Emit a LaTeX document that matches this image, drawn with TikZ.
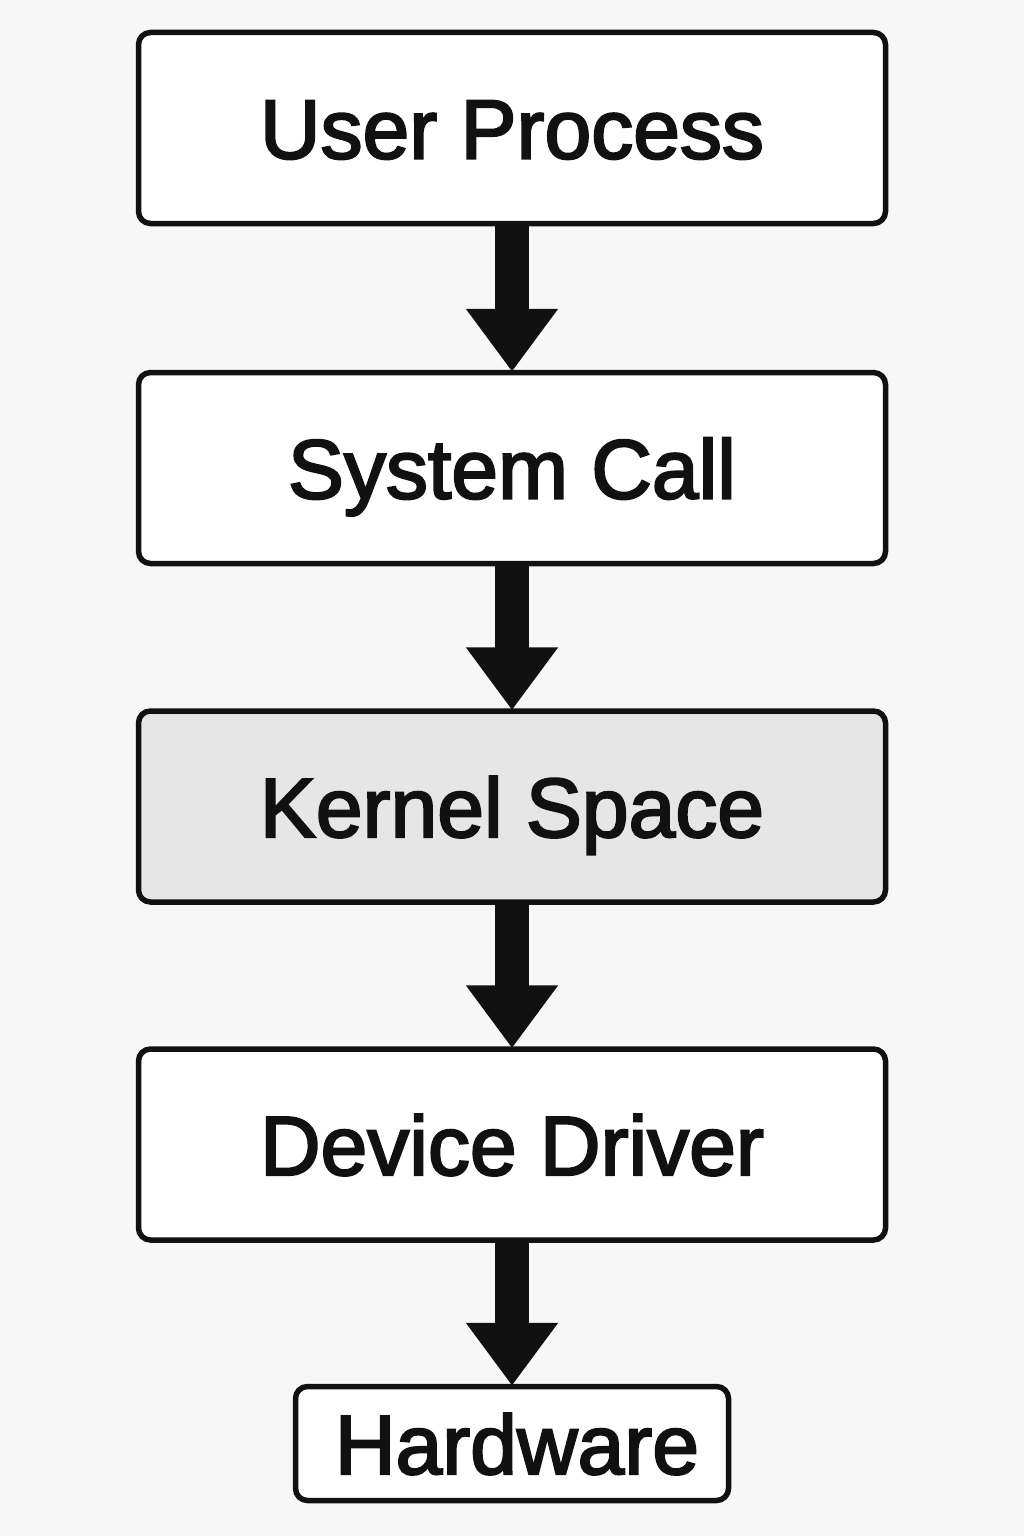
\documentclass[tikz,border=0pt]{standalone}
\usepackage{fontspec}
\newfontfamily\lblfont{Liberation Sans}[FakeBold=2.6]
\usetikzlibrary{arrows.meta}
\definecolor{bg}{HTML}{F7F7F7}
\definecolor{ink}{HTML}{111111}
\definecolor{kern}{HTML}{E6E6E6}
\begin{document}
\begin{tikzpicture}[x=1pt,y=-1pt,
  box/.style={draw=ink, line width=5.5pt, rounded corners=12pt, fill=white,
    minimum width=747pt, minimum height=191pt, inner sep=0pt,
    text=ink, font=\lblfont\fontsize{84}{100}\selectfont, text height=61pt, text depth=0pt},
  flow/.style={draw=ink, line width=34pt, -{Triangle[width=88pt,length=63pt]}, shorten >=-2pt}]
\fill[bg] (0,0) rectangle (1024,1536);
\useasboundingbox (0,0) rectangle (1024,1536);
\node[box] (user) at (512,128) {User Process};
\node[box] (sys) at (512,468) {System Call};
\node[box, fill=kern] (kernel) at (512,806.5) {Kernel Space};
\node[box] (drv) at (512,1144.5) {Device Driver};
\node[box, minimum width=433pt, minimum height=114pt] (hw) at (512,1443.5) {\hspace{10pt}Hardware};
\draw[flow] (user.south) -- (sys.north);
\draw[flow] (sys.south) -- (kernel.north);
\draw[flow] (kernel.south) -- (drv.north);
\draw[flow] (drv.south) -- (hw.north);
\end{tikzpicture}
\end{document}
